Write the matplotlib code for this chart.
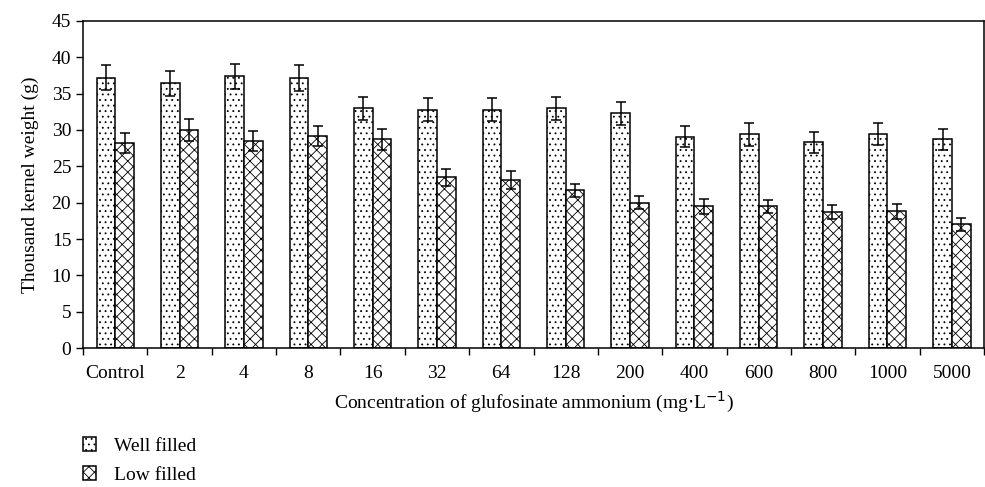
import numpy as np
import matplotlib.pyplot as plt

plt.rcParams['font.family'] = ['Liberation Serif', 'DejaVu Serif']
plt.rcParams['hatch.linewidth'] = 0.6

categories = ['Control', '2', '4', '8', '16', '32', '64', '128', '200', '400', '600', '800', '1000', '5000']
well_filled = [37.2, 36.4, 37.4, 37.1, 33.0, 32.8, 32.8, 33.0, 32.3, 29.1, 29.4, 28.3, 29.4, 28.7]
well_err = [1.75, 1.75, 1.7, 1.8, 1.6, 1.6, 1.6, 1.6, 1.6, 1.4, 1.6, 1.4, 1.5, 1.4]
low_filled = [28.2, 30.0, 28.5, 29.2, 28.7, 23.5, 23.1, 21.7, 20.0, 19.5, 19.5, 18.7, 18.8, 17.0]
low_err = [1.35, 1.45, 1.4, 1.4, 1.4, 1.2, 1.2, 0.9, 0.9, 1.0, 0.9, 1.0, 1.0, 0.9]

fs = 14

fig = plt.figure(figsize=(9.85, 4.87), dpi=100)
ax = fig.add_axes([0.0843, 0.2854, 0.9147, 0.6715])

x = np.arange(len(categories))
w = 0.29
b1 = ax.bar(x - w / 2, well_filled, w, color='white', edgecolor='black', linewidth=1.1,
            hatch='...', label='Well filled')
b2 = ax.bar(x + w / 2, low_filled, w, color='white', edgecolor='black', linewidth=1.1,
            hatch='xxx', label='Low filled')
ax.errorbar(x - w / 2, well_filled, yerr=well_err, fmt='none', ecolor='black',
            elinewidth=1.1, capsize=3.5, capthick=1.1)
ax.errorbar(x + w / 2, low_filled, yerr=low_err, fmt='none', ecolor='black',
            elinewidth=1.1, capsize=3.5, capthick=1.1)

ax.set_xlim(-0.5, len(categories) - 0.5)
ax.set_ylim(0, 45)
ax.set_yticks(range(0, 46, 5))
ax.set_xticks(np.arange(len(categories) + 1) - 0.5)
ax.set_xticklabels([])
ax.set_xticks(x, minor=True)
ax.set_xticklabels(categories, minor=True)
ax.tick_params(axis='x', which='major', direction='out', length=5, width=1)
ax.tick_params(axis='x', which='minor', length=0, pad=12, labelsize=fs)
ax.tick_params(axis='y', direction='out', length=5, width=1, labelsize=fs)
for s in ax.spines.values():
    s.set_linewidth(1.1)

ax.set_ylabel('Thousand kernel weight (g)', fontsize=fs, labelpad=9)
ax.set_xlabel('Concentration of glufosinate ammonium (mg$\\cdot$L$^{-1}$)', fontsize=fs, labelpad=6)

fig.legend(handles=[b1, b2], loc='lower left', bbox_to_anchor=(0.076, -0.01), frameon=False,
           fontsize=fs, handlelength=0.7, handleheight=0.7, handletextpad=0.9,
           labelspacing=0.6, borderaxespad=0.0)

fig.savefig('out.png', dpi=100)
